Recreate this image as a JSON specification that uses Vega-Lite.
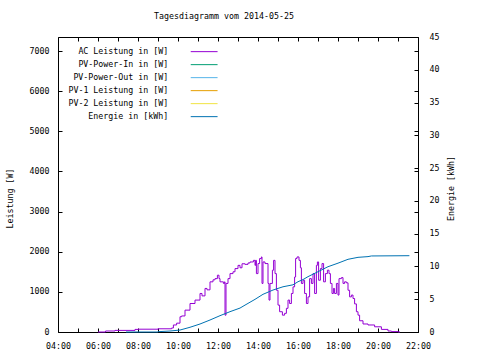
{
  "$schema": "https://vega.github.io/schema/vega-lite/v6.json",
  "width": 360,
  "height": 295,
  "autosize": {"type": "none"},
  "padding": {"left": 58, "top": 37, "right": 62, "bottom": 28},
  "background": "white",
  "title": {"text": "Tagesdiagramm vom 2014-05-25", "font": "DejaVu Sans Mono", "fontSize": 8.3, "fontWeight": "normal", "color": "black", "anchor": "middle", "dx": -14, "offset": 12},
  "datasets": {
    "ac": [
      {"h": 6.0, "W": 0}, {"h": 6.38, "W": 25}, {"h": 6.85, "W": 40}, {"h": 7.85, "W": 65}, {"h": 8.0, "W": 70},
      {"h": 9.0, "W": 80}, {"h": 9.68, "W": 100}, {"h": 9.77, "W": 175}, {"h": 9.93, "W": 220}, {"h": 10.1, "W": 380},
      {"h": 10.18, "W": 400}, {"h": 10.35, "W": 545}, {"h": 10.6, "W": 710}, {"h": 10.85, "W": 795}, {"h": 11.1, "W": 960},
      {"h": 11.2, "W": 900}, {"h": 11.35, "W": 1085}, {"h": 11.45, "W": 1050}, {"h": 11.6, "W": 1250}, {"h": 11.75, "W": 1300},
      {"h": 11.85, "W": 1330}, {"h": 11.97, "W": 1415}, {"h": 12.05, "W": 1330}, {"h": 12.1, "W": 1250}, {"h": 12.27, "W": 1210},
      {"h": 12.33, "W": 1250}, {"h": 12.35, "W": 420}, {"h": 12.4, "W": 1210}, {"h": 12.5, "W": 1330}, {"h": 12.6, "W": 1455},
      {"h": 12.75, "W": 1500}, {"h": 12.85, "W": 1580}, {"h": 13.0, "W": 1660}, {"h": 13.1, "W": 1600}, {"h": 13.2, "W": 1700},
      {"h": 13.35, "W": 1685}, {"h": 13.5, "W": 1720}, {"h": 13.6, "W": 1745}, {"h": 13.77, "W": 1785}, {"h": 13.85, "W": 1660},
      {"h": 13.88, "W": 1785}, {"h": 13.92, "W": 1455}, {"h": 14.0, "W": 1705}, {"h": 14.08, "W": 1830}, {"h": 14.17, "W": 1870},
      {"h": 14.2, "W": 1210}, {"h": 14.25, "W": 1745}, {"h": 14.35, "W": 1705}, {"h": 14.5, "W": 1210}, {"h": 14.55, "W": 795},
      {"h": 14.6, "W": 1210}, {"h": 14.72, "W": 1540}, {"h": 14.78, "W": 1785}, {"h": 14.85, "W": 1455}, {"h": 14.92, "W": 1040},
      {"h": 15.0, "W": 670}, {"h": 15.08, "W": 505}, {"h": 15.22, "W": 420}, {"h": 15.33, "W": 465}, {"h": 15.42, "W": 590},
      {"h": 15.5, "W": 795}, {"h": 15.58, "W": 710}, {"h": 15.67, "W": 960}, {"h": 15.75, "W": 1125}, {"h": 15.83, "W": 1370},
      {"h": 15.88, "W": 1830}, {"h": 15.95, "W": 1870}, {"h": 16.05, "W": 1785}, {"h": 16.12, "W": 1600}, {"h": 16.17, "W": 1210},
      {"h": 16.25, "W": 1290}, {"h": 16.33, "W": 960}, {"h": 16.42, "W": 710}, {"h": 16.5, "W": 875}, {"h": 16.58, "W": 1330},
      {"h": 16.67, "W": 1210}, {"h": 16.75, "W": 1455}, {"h": 16.83, "W": 960}, {"h": 16.92, "W": 1660}, {"h": 16.97, "W": 1745},
      {"h": 17.03, "W": 1290}, {"h": 17.12, "W": 1580}, {"h": 17.2, "W": 1705}, {"h": 17.28, "W": 1250}, {"h": 17.37, "W": 1455},
      {"h": 17.47, "W": 1540}, {"h": 17.55, "W": 1455}, {"h": 17.62, "W": 1210}, {"h": 17.7, "W": 960}, {"h": 17.77, "W": 1085},
      {"h": 17.83, "W": 960}, {"h": 17.92, "W": 1210}, {"h": 18.0, "W": 920}, {"h": 18.05, "W": 1330}, {"h": 18.17, "W": 1355},
      {"h": 18.25, "W": 1210}, {"h": 18.33, "W": 1250}, {"h": 18.42, "W": 1225}, {"h": 18.5, "W": 1040}, {"h": 18.58, "W": 875},
      {"h": 18.67, "W": 920}, {"h": 18.75, "W": 835}, {"h": 18.83, "W": 700}, {"h": 18.92, "W": 505}, {"h": 19.0, "W": 420},
      {"h": 19.08, "W": 280}, {"h": 19.25, "W": 200}, {"h": 19.5, "W": 175}, {"h": 19.83, "W": 130}, {"h": 20.17, "W": 65},
      {"h": 20.5, "W": 25}, {"h": 20.67, "W": 10}, {"h": 21.0, "W": 0}, {"h": 21.1, "W": 0}
    ],
    "energie": [
      {"h": 7.4, "kWh": 0}, {"h": 9.0, "kWh": 0}, {"h": 9.01, "kWh": 0.05}, {"h": 9.6, "kWh": 0.15}, {"h": 10.1, "kWh": 0.3},
      {"h": 10.6, "kWh": 0.72}, {"h": 11.1, "kWh": 1.22}, {"h": 11.6, "kWh": 1.83}, {"h": 12.1, "kWh": 2.49}, {"h": 12.6, "kWh": 3.1},
      {"h": 13.1, "kWh": 3.65}, {"h": 13.35, "kWh": 4.1}, {"h": 13.85, "kWh": 4.98}, {"h": 14.25, "kWh": 5.75}, {"h": 14.75, "kWh": 6.4},
      {"h": 15.25, "kWh": 6.9}, {"h": 15.75, "kWh": 7.2}, {"h": 16.0, "kWh": 7.67}, {"h": 16.25, "kWh": 8.0}, {"h": 16.5, "kWh": 8.44},
      {"h": 17.0, "kWh": 9.2}, {"h": 17.5, "kWh": 9.96}, {"h": 18.0, "kWh": 10.5}, {"h": 18.5, "kWh": 11.09}, {"h": 19.0, "kWh": 11.39},
      {"h": 19.5, "kWh": 11.5}, {"h": 19.67, "kWh": 11.6}, {"h": 21.57, "kWh": 11.64}
    ]
  },
  "layer": [
    {
      "data": {"name": "ac"},
      "mark": {"type": "line", "interpolate": "step-after", "strokeWidth": 1},
      "encoding": {
        "x": {"field": "h", "type": "quantitative", "scale": {"domain": [4, 22], "nice": false},
          "axis": {"orient": "bottom", "values": [4,5,6,7,8,9,10,11,12,13,14,15,16,17,18,19,20,21,22], "labelExpr": "datum.value % 2 == 0 ? ((datum.value < 10 ? '0' : '') + datum.value + ':00') : ''", "tickSize": -4, "labelPadding": 13, "title": null, "labelFlush": false, "labelOverlap": false}},
        "y": {"field": "W", "type": "quantitative", "scale": {"domain": [0, 7350], "nice": false},
          "axis": {"orient": "left", "values": [0,1000,2000,3000,4000,5000,6000,7000], "format": "d", "tickSize": -4, "labelPadding": 13, "title": "Leistung [W]", "titlePadding": 15, "titleY": 161, "labelOverlap": false, "labelFlush": false}},
        "color": {"datum": "AC Leistung in [W]", "type": "nominal",
          "scale": {"domain": ["AC Leistung in [W]", "PV-Power-In in [W]", "PV-Power-Out in [W]", "PV-1 Leistung in [W]", "PV-2 Leistung in [W]", "Energie in [kWh]"],
            "range": ["#9400d3", "#009e73", "#56b4e9", "#e69f00", "#f0e442", "#0072b2"]},
          "legend": {"orient": "none", "legendX": 142, "legendY": 10.5, "title": null, "symbolType": "M-4,0H4", "symbolSize": 45, "symbolStrokeWidth": 1, "labelAlign": "right", "labelOffset": -40, "labelFont": "DejaVu Sans Mono", "labelFontSize": 8.3, "labelColor": "black", "rowPadding": 4, "padding": 0, "labelLimit": 0}}
      }
    },
    {
      "data": {"name": "energie"},
      "mark": {"type": "line", "strokeWidth": 1},
      "encoding": {
        "x": {"field": "h", "type": "quantitative", "scale": {"domain": [4, 22], "nice": false},
          "axis": {"orient": "top", "values": [4,5,6,7,8,9,10,11,12,13,14,15,16,17,18,19,20,21,22], "labels": false, "tickSize": -4, "title": null}},
        "y": {"field": "kWh", "type": "quantitative", "scale": {"domain": [0, 45], "nice": false},
          "axis": {"orient": "right", "values": [0,5,10,15,20,25,30,35,40,45], "tickSize": -4, "labelPadding": 15, "title": "Energie [kWh]", "titleAngle": 270, "titlePadding": 17, "titleY": 151, "labelOverlap": false, "labelFlush": false}},
        "color": {"datum": "Energie in [kWh]", "type": "nominal"}
      }
    },
    {
      "data": {"name": "ac"},
      "mark": {"type": "line", "strokeOpacity": 0},
      "encoding": {
        "x": {"field": "h", "type": "quantitative", "axis": null},
        "y": {"field": "W", "type": "quantitative", "scale": {"domain": [0, 7350], "nice": false},
          "axis": {"orient": "right", "values": [0,1000,2000,3000,4000,5000,6000,7000], "labels": false, "tickSize": -4, "title": null}}
      }
    }
  ],
  "resolve": {"scale": {"y": "independent"}, "axis": {"x": "independent"}},
  "config": {
    "view": {"stroke": "black", "strokeWidth": 1},
    "axis": {"domain": false, "grid": false, "tickColor": "black", "tickWidth": 1, "labelFont": "DejaVu Sans Mono", "labelFontSize": 8.3, "labelColor": "black", "titleFont": "DejaVu Sans Mono", "titleFontSize": 8.3, "titleFontWeight": "normal", "titleColor": "black"}
  }
}
